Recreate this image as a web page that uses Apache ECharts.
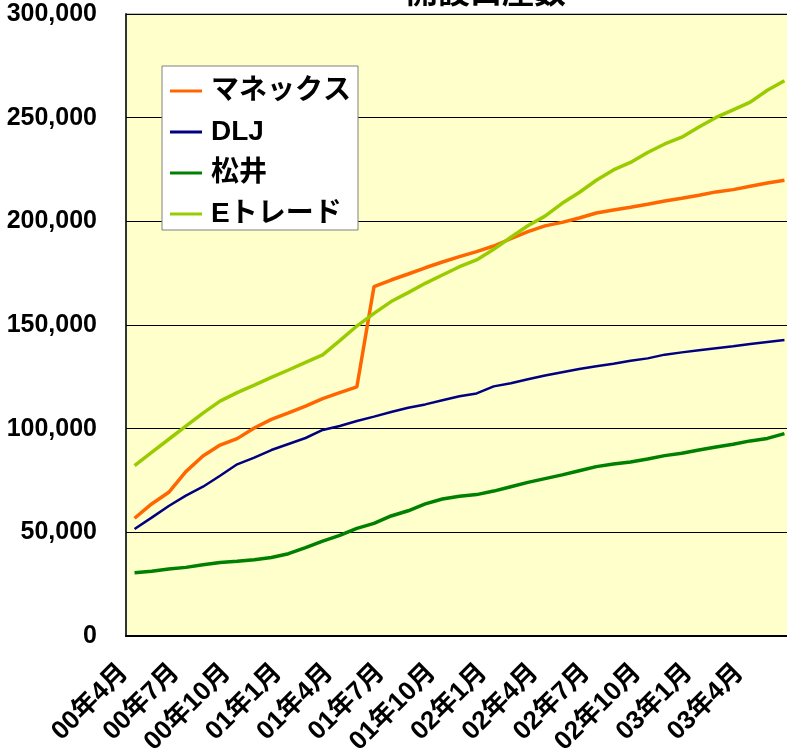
<!DOCTYPE html>
<html>
<head>
<meta charset="utf-8">
<script src="https://cdn.jsdelivr.net/npm/echarts@6/dist/echarts.min.js"></script>
<style>
  html, body { margin: 0; padding: 0; background: #fff; }
  #chart { width: 787px; height: 755px; }
</style>
</head>
<body>
<div id="chart"></div>
<script>
// 月次カテゴリ (00年4月 〜 03年6月)
let months = [
  '00年4月', '00年5月', '00年6月', '00年7月', '00年8月', '00年9月',
  '00年10月', '00年11月', '00年12月', '01年1月', '01年2月', '01年3月',
  '01年4月', '01年5月', '01年6月', '01年7月', '01年8月', '01年9月',
  '01年10月', '01年11月', '01年12月', '02年1月', '02年2月', '02年3月',
  '02年4月', '02年5月', '02年6月', '02年7月', '02年8月', '02年9月',
  '02年10月', '02年11月', '02年12月', '03年1月', '03年2月', '03年3月',
  '03年4月', '03年5月', '03年6月',
]

let monex = [
  56800, 63700, 69300, 79300, 86800, 92100, 95200, 100300, 104500, 107600,
  110900, 114500, 117400, 120200, 168500, 171700, 174600, 177600, 180400, 183000,
  185400, 188100, 191600, 195000, 197800, 199500, 201600, 204000, 205500, 206800,
  208200, 209800, 211100, 212600, 214200, 215300, 216900, 218500, 219800,
]
let dlj = [
  51600, 57100, 62700, 67700, 72000, 77300, 82800, 86000, 89700, 92600,
  95500, 99400, 101300, 103700, 105800, 108000, 110100, 111700, 113700, 115600,
  117000, 120400, 121900, 123800, 125600, 127200, 128800, 130100, 131300, 132800,
  133900, 135700, 136800, 137800, 138800, 139700, 140800, 141800, 142800,
]
let matsui = [
  30500, 31200, 32300, 33100, 34400, 35400, 36000, 36800, 37900, 39700,
  42600, 45800, 48500, 51900, 54300, 57900, 60400, 63700, 66100, 67400,
  68200, 69900, 72000, 74100, 75900, 77700, 79700, 81700, 83000, 83900,
  85400, 87000, 88100, 89700, 91200, 92500, 94100, 95300, 97600,
]
let etrade = [
  82200, 88600, 94900, 101200, 107500, 113300, 117400, 121000, 124700, 128300,
  132000, 135600, 142500, 149500, 155600, 161300, 165600, 170100, 174100, 178100,
  181400, 186500, 192300, 197900, 202500, 208700, 213900, 219800, 224800, 228400,
  233200, 237300, 240600, 245500, 250100, 253800, 257500, 263200, 267800,
]

let seriesNames = ['マネックス', 'DLJ', '松井', 'Eトレード']
let seriesColors = ['#FF6600', '#000080', '#008000', '#99CC00']
let seriesWidths = [3.5, 2.5, 3.5, 3.5]

let labelFont = '"Liberation Sans", "Noto Sans CJK JP", sans-serif'

;(function () {
  accountChart()
})()

// 開設口座数
function accountChart() {
  let chart = echarts.init(document.getElementById('chart'))
  let values = [monex, dlj, matsui, etrade]
  let series = values.map(function (data, i) {
    return {
      name: seriesNames[i],
      type: 'line',
      data: data,
      symbol: 'none',
      lineStyle: {
        color: seriesColors[i],
        width: seriesWidths[i],
      },
      itemStyle: { color: seriesColors[i] },
    }
  })
  let option = {
    animation: false,
    backgroundColor: '#ffffff',
    title: {
      text: '開設口座数',
      left: 481,
      textAlign: 'center',
      top: -30,
      textStyle: {
        fontFamily: '"Noto Sans CJK JP", sans-serif',
        fontSize: 32,
        fontWeight: 'bold',
        color: '#000',
      },
    },
    legend: {
      orient: 'vertical',
      left: 162,
      top: 66,
      padding: [11, 7, 2, 8],
      itemGap: 13,
      itemWidth: 32,
      itemHeight: 3,
      icon: 'rect',
      backgroundColor: '#ffffff',
      borderColor: '#808080',
      borderWidth: 1,
      borderRadius: 0,
      data: seriesNames,
      textStyle: {
        fontFamily: labelFont,
        fontSize: 28,
        lineHeight: 28,
        fontWeight: 'bold',
        color: '#000',
        padding: [0, 0, 0, 4],
      },
    },
    grid: {
      left: 126,
      top: 14,
      right: -6,
      bottom: 119,
      outerBoundsMode: 'none',
      containLabel: false,
      show: true,
      backgroundColor: '#FFFFCC',
      borderColor: '#808080',
      borderWidth: 1,
    },
    xAxis: {
      type: 'category',
      data: months,
      boundaryGap: true,
      axisLine: { lineStyle: { color: '#000', width: 2 } },
      axisTick: {
        inside: true,
        length: 8,
        interval: 2,
        lineStyle: { color: '#000', width: 1 },
      },
      axisLabel: {
        interval: 2,
        rotate: 45,
        margin: 22,
        padding: [0, 15, 0, 0],
        fontFamily: labelFont,
        fontSize: 26,
        fontWeight: 'bold',
        color: '#000',
      },
      splitLine: { show: false },
    },
    yAxis: {
      type: 'value',
      min: 0,
      max: 300000,
      interval: 50000,
      axisLine: { show: true, lineStyle: { color: '#333', width: 2 } },
      axisTick: {
        show: true,
        inside: true,
        length: 7,
        lineStyle: { color: '#000' },
      },
      axisLabel: {
        margin: 29,
        fontFamily: labelFont,
        fontSize: 25,
        fontWeight: 'bold',
        color: '#000',
        formatter: function (v) {
          return echarts.format.addCommas(v)
        },
      },
      splitLine: { lineStyle: { color: '#000', width: 1 } },
    },
    series: series,
  }
  chart.setOption(option)
}
</script>
</body>
</html>
